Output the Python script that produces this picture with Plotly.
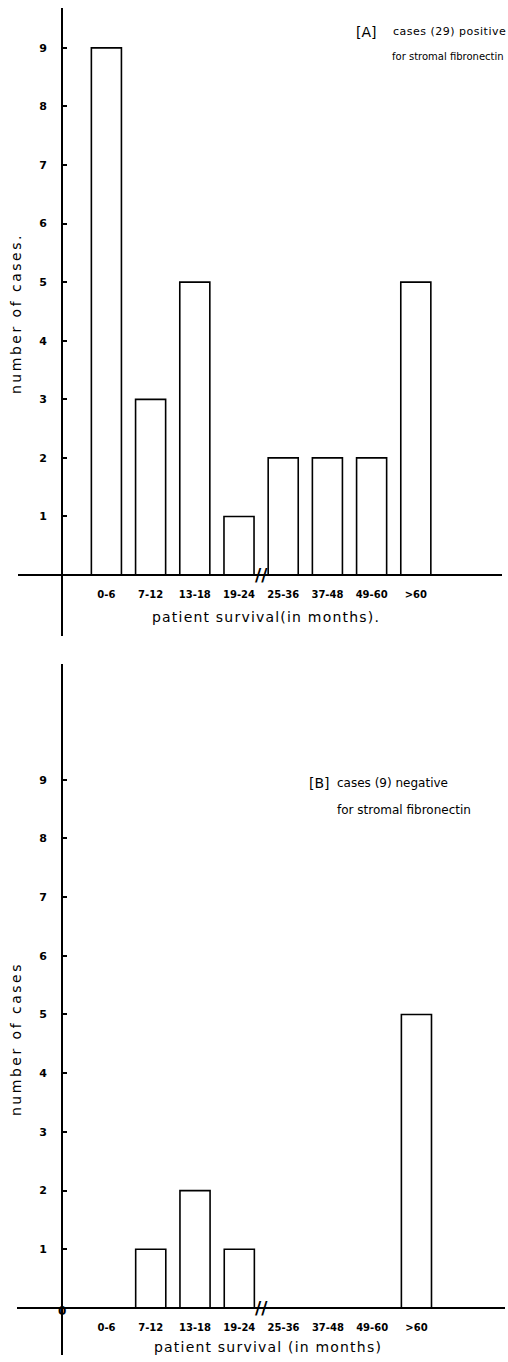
import plotly.graph_objects as go

categories = ["0-6", "7-12", "13-18", "19-24", "25-36", "37-48", "49-60", ">60"]
labels_a = ["0-6", "7-12", "13-18", "19-24", "25-36", "37-48", "49-60", ">60"]
labels_b = ["0-6", "7-12", "13-18", "19-24", "25-36", "37-48", "49-60", ">60"]
positive_counts = [9, 3, 5, 1, 2, 2, 2, 5]
negative_counts = [0, 1, 2, 1, 0, 0, 0, 5]
y_ticks = [1, 2, 3, 4, 5, 6, 7, 8, 9]

OFF = 0  # body margin removed by post_script
W, H = 508, 1362
FONT = "DejaVu Sans"
xpos = list(range(1, len(categories) + 1))

# panel geometry (page pixels)
top = dict(x0=18, x1=502, y0=8, y1=636, xr=[-1.0, 9.95], yr=[-1.04, 9.68])
bot = dict(x0=17, x1=505, y0=664, y1=1355, xr=[-1.02, 10.0], yr=[-0.80, 10.97])


def px(x):
    return (x - OFF) / W


def py(y):
    return 1 - (y - OFF) / H


def spaced(t, s):
    return '<span style="letter-spacing:%spx">%s</span>' % (s, t)


def doms(p):
    xd = [px(p["x0"]), px(p["x1"])]
    yd = [py(p["y1"]), py(p["y0"])]
    xz = xd[0] + (0 - p["xr"][0]) / (p["xr"][1] - p["xr"][0]) * (xd[1] - xd[0])
    yz = yd[0] + (0 - p["yr"][0]) / (p["yr"][1] - p["yr"][0]) * (yd[1] - yd[0])
    return xd, yd, xz, yz


fig = go.Figure()
bar_style = dict(marker=dict(color="white", line=dict(color="black", width=1.6)),
                 width=0.68, showlegend=False, hoverinfo="skip")
fig.add_trace(go.Bar(x=xpos, y=positive_counts, xaxis="x", yaxis="y", **bar_style))
fig.add_trace(go.Bar(x=xpos, y=negative_counts, xaxis="x2", yaxis="y2", **bar_style))

layout = dict(width=W, height=H, margin=dict(l=0, r=0, t=0, b=0),
              paper_bgcolor="white", plot_bgcolor="white",
              font=dict(family=FONT, color="black"))

xtickfont = dict(size=10, family=FONT, color="black", weight="bold")
ytickfont = dict(size=11, family=FONT, color="black", weight="bold")
annotations = []
for i, (p, labs) in enumerate([(top, labels_a), (bot, labels_b)]):
    xd, yd, xz, yz = doms(p)
    sx = "" if i == 0 else "2"
    layout["xaxis" + sx] = dict(domain=xd, range=p["xr"], anchor="free", position=yz,
                                 showline=True, linecolor="black", linewidth=2,
                                 showgrid=False, zeroline=False, ticks="",
                                 tickvals=xpos, ticktext=labs, ticklabelstandoff=10,
                                 tickfont=xtickfont)
    layout["yaxis" + sx] = dict(domain=yd, range=p["yr"], anchor="free", position=xz,
                                 showline=True, linecolor="black", linewidth=2,
                                 showgrid=False, zeroline=False, ticks="inside",
                                 ticklen=4, tickwidth=1.5, tickcolor="black",
                                 tickvals=y_ticks, ticklabelstandoff=12,
                                 tickfont=ytickfont)
    # axis break mark
    annotations.append(dict(x=4.5, y=0, xref="x" + sx, yref="y" + sx, text="<b>//</b>",
                            showarrow=False, font=dict(size=17, family=FONT),
                            xanchor="center", yanchor="middle"))

# top panel texts
annotations += [
    dict(x=px(366), y=py(32), xref="paper", yref="paper", text="[A]",
         showarrow=False, font=dict(size=14), xanchor="center", yanchor="middle"),
    dict(x=px(391), y=py(32), xref="paper", yref="paper",
         text=spaced("cases (29) positive", 0.5),
         showarrow=False, font=dict(size=11), xanchor="left", yanchor="middle"),
    dict(x=px(390), y=py(57), xref="paper", yref="paper", text="for stromal fibronectin",
         showarrow=False, font=dict(size=10), xanchor="left", yanchor="middle"),
    dict(x=px(16), y=py(314), xref="paper", yref="paper",
         text=spaced("number of cases.", 2.5),
         showarrow=False, font=dict(size=14), textangle=-90,
         xanchor="center", yanchor="middle"),
    dict(x=px(266), y=py(617), xref="paper", yref="paper",
         text=spaced("patient survival(in months).", 1.2),
         showarrow=False, font=dict(size=14), xanchor="center", yanchor="middle"),
]
# bottom panel texts
annotations += [
    dict(x=px(319), y=py(783), xref="paper", yref="paper", text="[B]",
         showarrow=False, font=dict(size=14), xanchor="center", yanchor="middle"),
    dict(x=px(335), y=py(783), xref="paper", yref="paper", text="cases (9) negative",
         showarrow=False, font=dict(size=12), xanchor="left", yanchor="middle"),
    dict(x=px(335), y=py(810), xref="paper", yref="paper", text="for stromal fibronectin",
         showarrow=False, font=dict(size=12), xanchor="left", yanchor="middle"),
    dict(x=px(16), y=py(1039), xref="paper", yref="paper",
         text=spaced("number of cases", 2.5),
         showarrow=False, font=dict(size=14), textangle=-90,
         xanchor="center", yanchor="middle"),
    dict(x=px(268), y=py(1347), xref="paper", yref="paper",
         text=spaced("patient survival (in months)", 1.2),
         showarrow=False, font=dict(size=14), xanchor="center", yanchor="middle"),
    dict(x=0, y=0, xref="x2", yref="y2", text="<b>0</b>", showarrow=False,
         font=dict(size=12), xanchor="center", yanchor="middle", yshift=-3),
]
layout["annotations"] = annotations
fig.update_layout(**layout)
fig.write_html(
    "out.html",
    config={"displayModeBar": False},
    post_script="document.body.style.margin='0';document.body.style.overflow='hidden';",
)
